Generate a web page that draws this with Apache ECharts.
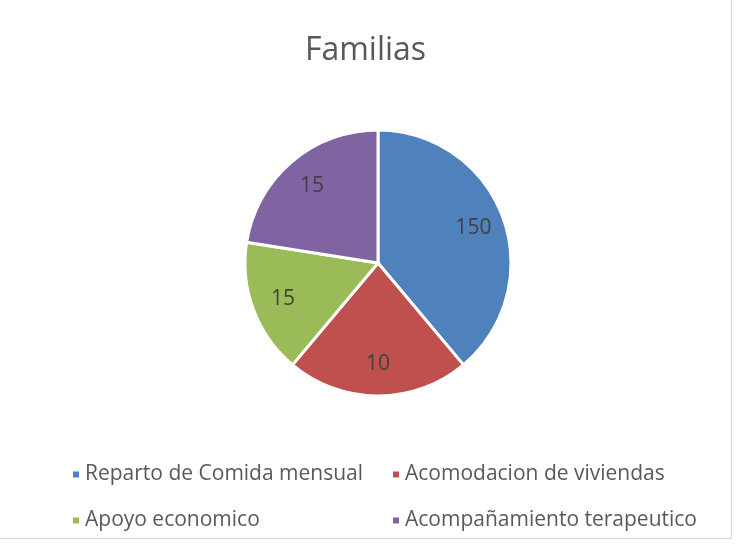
<!DOCTYPE html>
<html>
<head>
<meta charset="utf-8">
<script src="https://cdn.jsdelivr.net/npm/echarts@6/dist/echarts.min.js"></script>
<style>
  html, body { margin: 0; padding: 0; background: #fff; }
  #chart { position: absolute; left: 0; top: 0; width: 731px; height: 538px;
           border-right: 1px solid #d9d9d9; border-bottom: 1px solid #d9d9d9; }
</style>
</head>
<body>
<div id="chart"></div>
<script>
const categories = ['Reparto de Comida mensual', 'Acomodacion de viviendas', 'Apoyo economico', 'Acompañamiento terapeutico'];
const sliceValues = [140, 80, 59, 81];
const labelValues = [150, 10, 15, 15];
const colors = ['#4f81bd', '#c0504d', '#9bbb59', '#8064a2'];

const font = '"Open Sans", sans-serif';

const chart = echarts.init(document.getElementById('chart'));

const data = categories.map(function (name, i) {
    return { name: name, value: sliceValues[i], shown: labelValues[i], itemStyle: { color: colors[i] } };
});

const legendText = { fontFamily: font, fontSize: 21, color: '#595959' };

chart.setOption({
    animation: false,
    title: {
        text: 'Familias',
        left: 'center',
        top: 30,
        textStyle: { fontFamily: font, fontSize: 32, fontWeight: 'normal', color: '#595959' }
    },
    legend: [
        {
            data: [categories[0], categories[2]],
            orient: 'vertical',
            left: 66,
            top: 459,
            itemGap: 25,
            itemWidth: 8,
            itemHeight: 8,
            icon: 'rect',
            textStyle: legendText
        },
        {
            data: [categories[1], categories[3]],
            orient: 'vertical',
            left: 386,
            top: 459,
            itemGap: 25,
            itemWidth: 8,
            itemHeight: 8,
            icon: 'rect',
            textStyle: legendText
        }
    ],
    series: [
        {
            name: 'Familias',
            type: 'pie',
            center: [378, 263],
            radius: [0, 133],
            startAngle: 90,
            label: { show: false },
            labelLine: { show: false },
            itemStyle: { borderColor: '#fff', borderWidth: 3 },
            data: data
        },
        {
            // label layer only, so values sit out toward the rim
            name: 'labels',
            type: 'pie',
            center: [378, 263],
            radius: [64, 133],
            startAngle: 90,
            silent: true,
            legendHoverLink: false,
            itemStyle: { color: 'transparent', borderWidth: 0 },
            label: {
                show: true,
                position: 'inside',
                formatter: function (p) { return p.data.shown; },
                fontFamily: font,
                fontSize: 21,
                color: '#404040'
            },
            labelLine: { show: false },
            data: data.map(function (d) {
                return { name: d.name, value: d.value, shown: d.shown, itemStyle: { color: 'transparent' } };
            })
        }
    ]
});
</script>
</body>
</html>
